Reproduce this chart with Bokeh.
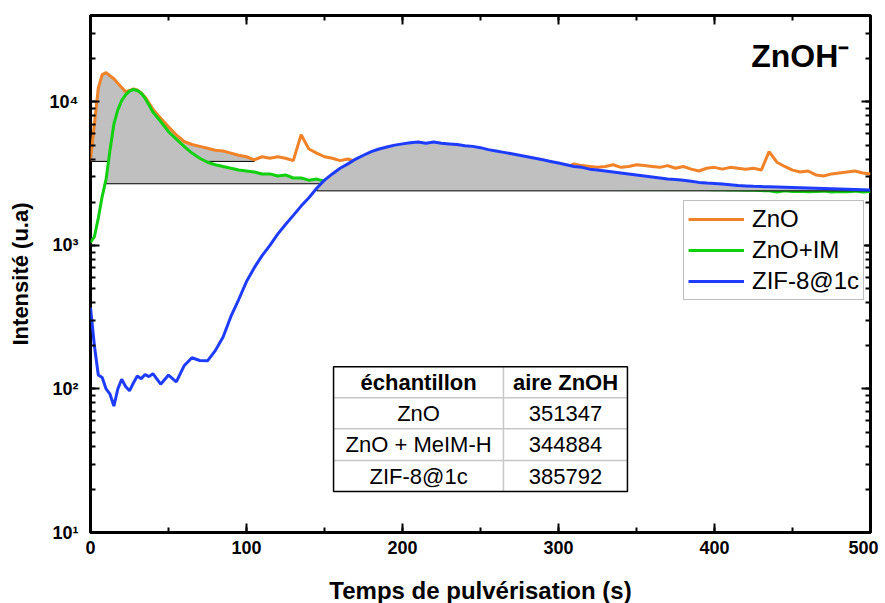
from bokeh.plotting import figure
from bokeh.models import (Range1d, LinearAxis, LogAxis, SingleIntervalTicker, LogTicker,
                          CustomJSTickFormatter, Legend, LegendItem, Label, ColumnDataSource)
from bokeh.embed import file_html
from bokeh.resources import INLINE
from bokeh.core.properties import value

FONT = "Liberation Sans"

# ---------------- data ----------------
time_s = [0, 2.5, 5, 7.5, 10, 12.5, 15, 17.5, 20, 22.5, 25, 27.5, 30, 32.5, 35, 37.5] + list(range(40, 505, 5))

zno = [3900, 7000, 12500, 15500, 16000, 15200, 14500, 13500, 12600, 11800, 12000, 12300, 12100, 11600, 10800, 9800,
       8900, 7700, 6700, 5900, 5300, 5050, 4900, 4750, 4600, 4550,
       4400, 4250, 4150, 3950, 4150, 4050, 4150, 4050, 3900, 5900,
       4700, 4400, 4150, 4050, 3900, 4000, 3850,
       3900, 3900, 3850, 3900, 3800, 3850, 3750, 3800, 3800, 3750,
       3700, 3750, 3700, 3650, 3700, 3650, 3600, 3650, 3600, 3550,
       3600, 3550, 3500, 3550, 3500, 3500,
       3500, 3700, 3600, 3550, 3500, 3550, 3650, 3500, 3550, 3650,
       3600, 3550, 3500, 3600, 3450, 3550, 3400, 3300, 3450, 3500,
       3400, 3500, 3450, 3400, 3450, 3350, 4500, 3800, 3550, 3350,
       3250, 3300, 3100, 3050, 3150, 3200, 3250, 3300, 3200, 3150]

zno_im = [1050, 1150, 1550, 2200, 2900, 4600, 7000, 8800, 10200, 11200, 11900, 12200, 12000, 11500, 10600, 9500,
          8500, 7300, 6200, 5500, 4900, 4400, 4050, 3800, 3650, 3550,
          3450, 3350, 3300, 3250, 3150, 3150, 3050, 3100, 2950, 2950,
          2850, 2900, 2800,
          2780, 2760, 2740, 2720, 2700, 2690, 2680, 2670, 2660, 2650,
          2640, 2630, 2620, 2610, 2600, 2600, 2590, 2580, 2570, 2570,
          2560, 2550, 2550, 2540, 2540, 2530, 2530, 2520, 2520, 2510,
          2510, 2500, 2500, 2500, 2490, 2490, 2490, 2480, 2480, 2480,
          2470, 2470, 2470, 2460, 2460, 2460, 2450, 2450, 2450, 2440,
          2440, 2430, 2430, 2420, 2420, 2410, 2400, 2360, 2400, 2380,
          2390, 2370, 2380, 2390, 2360, 2380, 2370, 2390, 2360, 2380]

zif8 = [370, 200, 125, 120, 100, 92, 76, 100, 117, 104, 97, 110, 123, 118, 126, 122,
        128, 108, 125, 112, 145, 165, 158, 157, 185, 230,
        320, 420, 560, 700, 850, 1000, 1200, 1400, 1620, 1880,
        2150, 2500, 2850, 3150, 3450, 3700, 4000, 4250, 4500, 4700,
        4850, 5000, 5100, 5200, 5250, 5150, 5250, 5150, 5100, 5050,
        4950, 4900, 4800, 4650, 4550, 4450, 4350, 4250, 4150, 4050,
        3950, 3850, 3750, 3650, 3550, 3500, 3400, 3350, 3300, 3250,
        3200, 3150, 3100, 3050, 3000, 2950, 2900, 2880, 2850, 2800,
        2750, 2720, 2700, 2680, 2650, 2620, 2600, 2580, 2570, 2560,
        2550, 2540, 2530, 2520, 2510, 2500, 2490, 2480, 2470, 2460,
        2450, 2440, 2430]

series_names = ["ZnO", "ZnO+IM", "ZIF-8@1c"]
series_colors = ["#f08228", "#10d010", "#1e3cff"]

# integration windows (start time, end time, baseline) for the shaded areas
area_zno = (0, 105, 3850)
area_zno_im = (10, 150, 2690)
area_zif8 = (145, 500, 2400)

table_header = ["échantillon", "aire ZnOH"]
table_samples = ["ZnO", "ZnO + MeIM-H", "ZIF-8@1c"]
table_areas = ["351347", "344884", "385792"]

# ---------------- figure ----------------
p = figure(frame_width=780, frame_height=517, x_range=Range1d(0, 500), y_range=Range1d(10, 40000),
           y_axis_type="log", output_backend="svg", toolbar_location=None,
           min_border_left=90, min_border_top=15, min_border_right=8, min_border_bottom=71)
p.xgrid.visible = False
p.ygrid.visible = False
p.outline_line_color = "black"
p.outline_line_width = 3
p.outline_line_alpha = 1.0
p.background_fill_color = "white"
p.border_fill_color = "white"

xticker = SingleIntervalTicker(interval=100, num_minor_ticks=2)
sup_code = """
const sup = {'0':'\u2070','1':'\u00b9','2':'\u00b2','3':'\u00b3','4':'\u2074','5':'\u2075','6':'\u2076','-':'\u207b'};
const e = Math.round(Math.log10(tick));
return '10' + String(e).split('').map(c => sup[c]).join('');
"""

xa = p.xaxis[0]
xa.ticker = xticker
ya = p.yaxis[0]
ya.ticker = LogTicker(num_minor_ticks=10)
ya.formatter = CustomJSTickFormatter(code=sup_code)

for ax in (xa, ya):
    ax.axis_line_color = None
    ax.major_tick_in = 9
    ax.major_tick_out = 0
    ax.minor_tick_in = 5
    ax.minor_tick_out = 0
    ax.major_tick_line_width = 2
    ax.minor_tick_line_width = 2
    ax.major_label_text_font = FONT
    ax.major_label_text_font_style = "bold"
    ax.major_label_text_color = "black"
    ax.axis_label_text_font = FONT
    ax.axis_label_text_font_style = "bold"
    ax.axis_label_text_color = "black"

xa.axis_label = "Temps de pulvérisation (s)"
xa.axis_label_text_font_size = "24px"
xa.major_label_text_font_size = "18px"
xa.major_label_standoff = 8
xa.axis_label_standoff = 20
ya.axis_label = "Intensité (u.a)"
ya.axis_label_text_font_size = "22px"
ya.major_label_text_font_size = "18px"
ya.major_label_standoff = 12
ya.axis_label_standoff = 14

blank = CustomJSTickFormatter(code="return ''")
top = LinearAxis(ticker=xticker, formatter=blank)
right = LogAxis(ticker=LogTicker(num_minor_ticks=10), formatter=blank)
for ax in (top, right):
    ax.axis_line_color = None
    ax.major_tick_in = 9
    ax.major_tick_out = 0
    ax.minor_tick_in = 5
    ax.minor_tick_out = 0
    ax.major_tick_line_width = 2
    ax.minor_tick_line_width = 2
    ax.major_label_text_font_size = "1px"
    ax.major_label_standoff = 0
p.add_layout(top, "above")
p.add_layout(right, "right")


def area_patch(vals, window):
    t0, t1, base = window
    xs, ys = [], []
    for t, v in zip(time_s, vals):
        if t0 <= t <= t1:
            xs.append(t)
            ys.append(v)
    xs = [xs[0]] + xs + [xs[-1]]
    ys = [base] + ys + [base]
    p.patch(xs, ys, fill_color="#c0c0c0", line_color="black", line_width=1)


area_patch(zno, area_zno)
area_patch(zno_im, area_zno_im)
r_zno = p.line(time_s, zno, line_color=series_colors[0], line_width=3)
r_im = p.line(time_s, zno_im, line_color=series_colors[1], line_width=3)
area_patch(zif8, area_zif8)
r_zif = p.line(time_s, zif8, line_color=series_colors[2], line_width=3)

legend = Legend(items=[LegendItem(label=series_names[0], renderers=[r_zno]),
                       LegendItem(label=series_names[1], renderers=[r_im]),
                       LegendItem(label=series_names[2], renderers=[r_zif])],
                location=(593, 232))
legend.label_text_font = FONT
legend.label_text_font_size = "24px"
legend.label_text_color = "black"
legend.glyph_width = 56
legend.glyph_height = 28
legend.label_height = 28
legend.label_standoff = 8
legend.spacing = 3
legend.padding = 4
legend.margin = 0
legend.border_line_color = "#808080"
legend.border_line_width = 1.5
legend.background_fill_alpha = 1.0
p.add_layout(legend)

# ---------------- table ----------------
tb_left, tb_div, tb_right = 155.8, 264.7, 344.2
row_edges = [142.9, 87.0, 52.9, 31.7, 19.3]
row_centers = [111.4, 67.9, 41.0, 24.7]
col_centers = [210.3, 304.5]

p.quad(left=[tb_left], right=[tb_right], top=[row_edges[0]], bottom=[row_edges[-1]],
       fill_color="white", line_color=None)
p.segment(x0=[tb_left] * 3 + [tb_div], x1=[tb_right] * 3 + [tb_div],
          y0=row_edges[1:4] + [row_edges[0]], y1=row_edges[1:4] + [row_edges[-1]],
          line_color="#c8c8c8", line_width=1.5)
p.quad(left=[tb_left], right=[tb_right], top=[row_edges[0]], bottom=[row_edges[-1]],
       fill_color=None, line_color="black", line_width=1.5)

hdr = ColumnDataSource(dict(x=col_centers, y=[row_centers[0]] * 2, t=table_header))
p.text(x="x", y="y", text="t", source=hdr, text_font=value(FONT), text_font_size=value("22px"),
       text_font_style="bold", text_align="center", text_baseline="middle", text_color="black")
body = ColumnDataSource(dict(x=[col_centers[0]] * 3 + [col_centers[1]] * 3,
                             y=row_centers[1:] + row_centers[1:],
                             t=table_samples + table_areas))
p.text(x="x", y="y", text="t", source=body, text_font=value(FONT), text_font_size=value("22px"),
       text_align="center", text_baseline="middle", text_color="black")

title = Label(x=455, y=20850, text="ZnOH\u207b", text_font=FONT, text_font_size="32px",
              text_font_style="bold", text_align="center", text_baseline="middle", text_color="black")
p.add_layout(title)

open("out.html", "w").write(file_html(p, INLINE))
